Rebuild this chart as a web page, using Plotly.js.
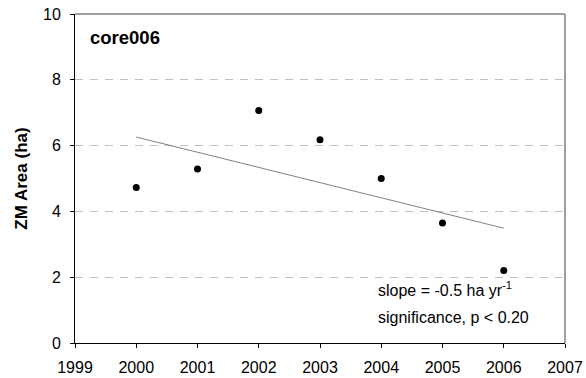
<!DOCTYPE html>
<html><head><meta charset="utf-8">
<script src="https://cdn.plot.ly/plotly-3.0.1.min.js"></script>
<style>body{margin:0;background:#fff}#chart{width:586px;height:378px}</style>
</head><body><div id="chart"></div>
<script>
const years = [2000, 2001, 2002, 2003, 2004, 2005, 2006];
const zmArea = [4.73, 5.29, 7.07, 6.18, 5.0, 3.65, 2.2];
const trendYears = [2000, 2006];
const trendArea = [6.26, 3.49];
const xTicks = [1999, 2000, 2001, 2002, 2003, 2004, 2005, 2006, 2007];
const yTicks = [0, 2, 4, 6, 8, 10];

const font = 'Liberation Sans, Arial, sans-serif';
const traces = [
  {x: trendYears, y: trendArea, mode: 'lines', line: {color: '#808080', width: 1}, hoverinfo: 'skip'},
  {x: years, y: zmArea, mode: 'markers', marker: {color: '#000', size: 7}}
];
const layout = {
  width: 586, height: 378, showlegend: false,
  margin: {l: 75, r: 21, t: 14, b: 35},
  paper_bgcolor: '#fff', plot_bgcolor: '#fff',
  font: {family: font, size: 16, color: '#000'},
  xaxis: {range: [1999, 2007], tickvals: xTicks, ticktext: xTicks.map(String),
    showgrid: false, zeroline: false, showline: true, linecolor: '#000', linewidth: 1,
    ticks: 'outside', ticklen: 4, tickcolor: '#000', tickfont: {size: 16}, ticklabelstandoff: 6},
  yaxis: {range: [0, 10], tickvals: yTicks, ticktext: yTicks.map(String),
    showgrid: true, gridcolor: '#c0c0c0', griddash: '8px,7px', gridwidth: 1,
    zeroline: false, showline: true, linecolor: '#000', linewidth: 1,
    ticks: 'outside', ticklen: 4, tickcolor: '#000', tickfont: {size: 16}, ticklabelstandoff: 6,
    title: {text: '<b>ZM Area (ha)</b>', font: {size: 17}, standoff: 11}},
  shapes: [
    {type: 'line', xref: 'paper', yref: 'paper', x0: 0, x1: 1, y0: 1, y1: 1, line: {color: '#808080', width: 1.5}},
    {type: 'line', xref: 'paper', yref: 'paper', x0: 1, x1: 1, y0: 0, y1: 1, line: {color: '#808080', width: 1.5}}
  ],
  annotations: [
    {text: '<b>core006</b>', xref: 'paper', yref: 'paper', x: 0.027, y: 0.93, xanchor: 'left', yanchor: 'middle', showarrow: false, font: {size: 18.5}},
    {text: 'slope = -0.5 ha yr<sup>-1</sup>', xref: 'paper', yref: 'paper', x: 0.614, y: 0.163, xanchor: 'left', yanchor: 'middle', showarrow: false, font: {size: 16}},
    {text: 'significance, p < 0.20', xref: 'paper', yref: 'paper', x: 0.614, y: 0.079, xanchor: 'left', yanchor: 'middle', showarrow: false, font: {size: 16}}
  ]
};
Plotly.newPlot('chart', traces, layout, {displayModeBar: false, staticPlot: true});
</script></body></html>
